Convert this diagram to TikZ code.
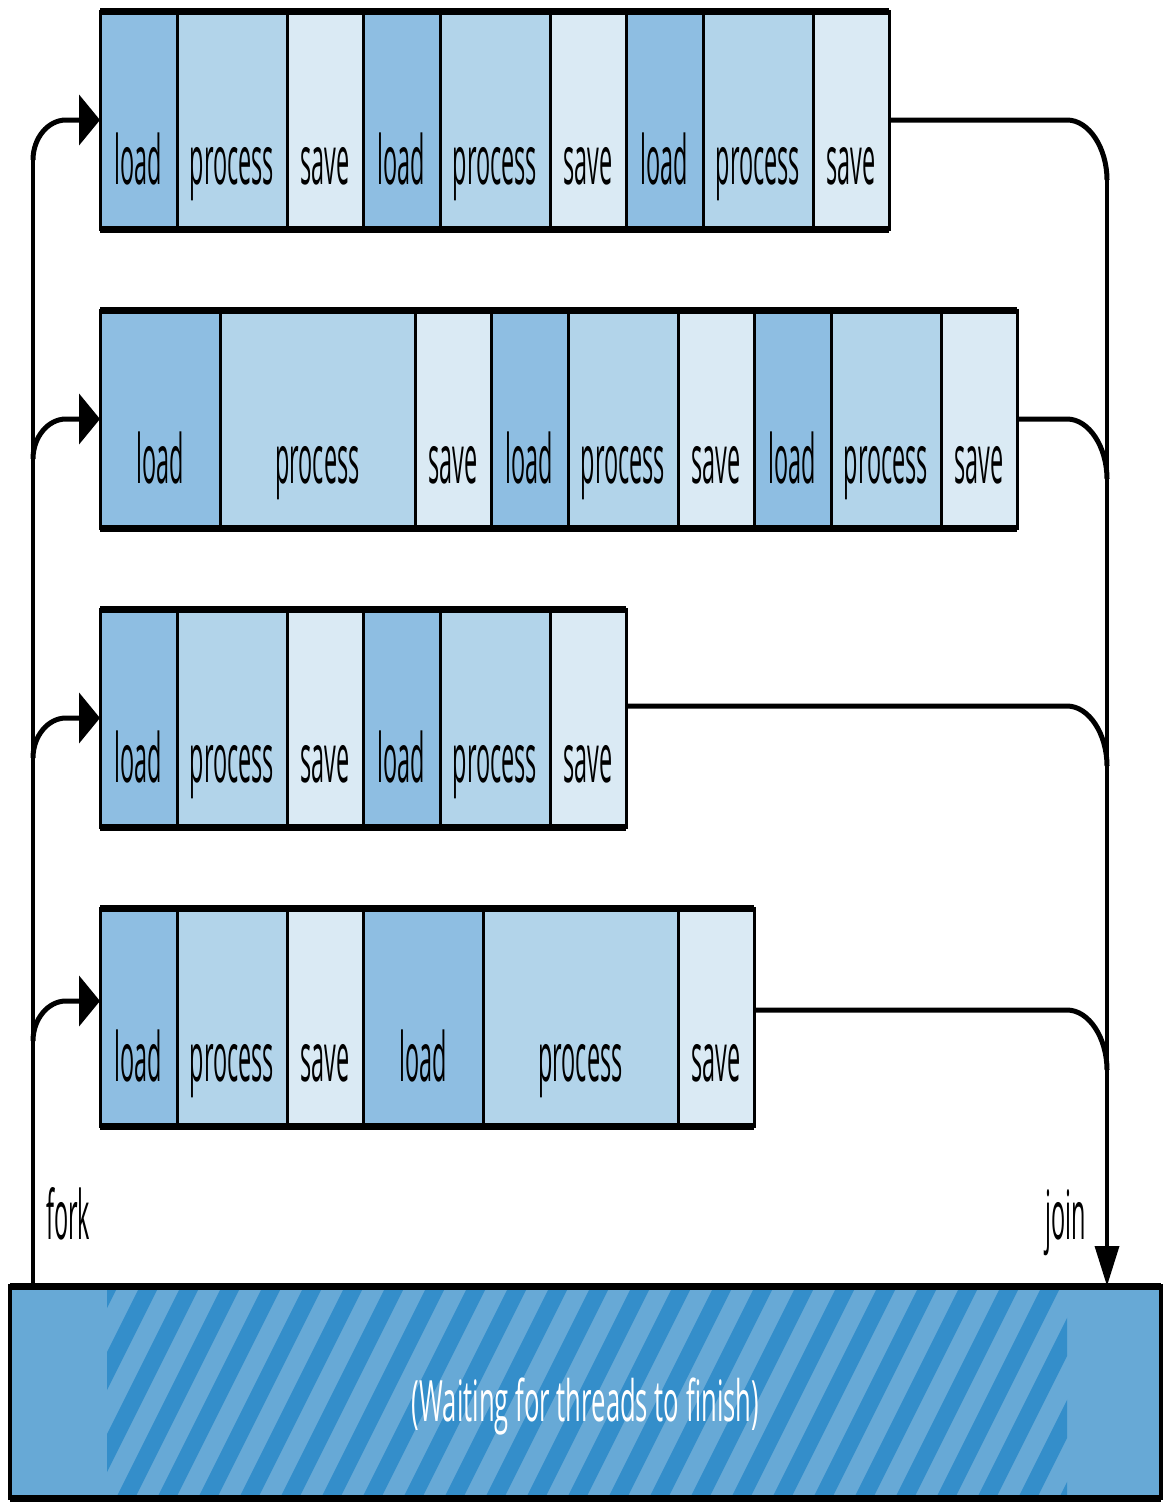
\documentclass[tikz,border=0pt]{standalone}
\usepackage{fontspec}
\setmainfont[FakeStretch=0.345]{Open Sans}
\newfontfamily\barfont[FakeStretch=0.45]{Open Sans}
\usetikzlibrary{
	arrows.meta,
	positioning,
	calc,
	backgrounds
}
\definecolor{loadc}{RGB}{142,190,226}
\definecolor{procc}{RGB}{178,212,234}
\definecolor{savec}{RGB}{218,234,244}
\definecolor{barc}{RGB}{103,169,214}
\definecolor{stripec}{RGB}{52,142,202}

\begin{document}
\begin{tikzpicture}[x=1pt, y=-1pt,
  cell/.style={draw, line width=3pt, outer sep=0pt, inner sep=0pt,
    minimum height=218pt, text height=128pt, text depth=0pt,
    font=\fontsize{68}{70}\selectfont},
  loadcell/.style={cell, fill=loadc, minimum width=77pt},
  proccell/.style={cell, fill=procc, minimum width=110pt},
  savecell/.style={cell, fill=savec, minimum width=76pt},
  rim/.style={line width=7pt},
  bar/.style={draw, line width=4pt, outer sep=0pt, inner sep=0pt,
    minimum width=1151pt, minimum height=212pt, text=white,
    text height=58pt, text depth=0pt,
    font=\barfont\fontsize{57}{60}\selectfont},
  etiqueta/.style={font=\fontsize{68}{70}\selectfont, inner sep=0pt},
  rama/.style={line width=5pt},
  tronco/.style={line width=3.5pt},
  forkflecha/.style={rama, -{Triangle[length=21pt, width=50pt]}},
  joinflecha/.style={tronco, -{Triangle[length=40pt, width=24pt]}}
]
\useasboundingbox (0,0) rectangle (1163,1505);

% hilo 1
\node[loadcell, anchor=north west] (r1c1) at (100,11) {load};
\node[proccell, right=0pt of r1c1] (r1c2) {process};
\node[savecell, right=0pt of r1c2] (r1c3) {save};
\node[loadcell, right=0pt of r1c3] (r1c4) {load};
\node[proccell, right=0pt of r1c4] (r1c5) {process};
\node[savecell, right=0pt of r1c5] (r1c6) {save};
\node[loadcell, right=0pt of r1c6] (r1c7) {load};
\node[proccell, right=0pt of r1c7] (r1c8) {process};
\node[savecell, right=0pt of r1c8] (r1c9) {save};

% hilo 2
\node[loadcell, minimum width=120pt, below=81pt of r1c1.south west, anchor=north west] (r2c1) {load};
\node[proccell, minimum width=195pt, right=0pt of r2c1] (r2c2) {process};
\node[savecell, right=0pt of r2c2] (r2c3) {save};
\node[loadcell, right=0pt of r2c3] (r2c4) {load};
\node[proccell, right=0pt of r2c4] (r2c5) {process};
\node[savecell, right=0pt of r2c5] (r2c6) {save};
\node[loadcell, right=0pt of r2c6] (r2c7) {load};
\node[proccell, right=0pt of r2c7] (r2c8) {process};
\node[savecell, right=0pt of r2c8] (r2c9) {save};

% hilo 3
\node[loadcell, below=81pt of r2c1.south west, anchor=north west] (r3c1) {load};
\node[proccell, right=0pt of r3c1] (r3c2) {process};
\node[savecell, right=0pt of r3c2] (r3c3) {save};
\node[loadcell, right=0pt of r3c3] (r3c4) {load};
\node[proccell, right=0pt of r3c4] (r3c5) {process};
\node[savecell, right=0pt of r3c5] (r3c6) {save};

% hilo 4
\node[loadcell, below=81pt of r3c1.south west, anchor=north west] (r4c1) {load};
\node[proccell, right=0pt of r4c1] (r4c2) {process};
\node[savecell, right=0pt of r4c2] (r4c3) {save};
\node[loadcell, minimum width=120pt, right=0pt of r4c3] (r4c4) {load};
\node[proccell, minimum width=195pt, right=0pt of r4c4] (r4c5) {process};
\node[savecell, right=0pt of r4c5] (r4c6) {save};

% bordes gruesos arriba y abajo
\foreach \f/\u in {1/9, 2/9, 3/6, 4/6} {
  \draw[rim] (r\f c1.north west) -- (r\f c\u.north east);
  \draw[rim] (r\f c1.south west) -- (r\f c\u.south east);
}

% barra de espera
\node[bar, anchor=north west] (wait) at (10,1286) {(Waiting for threads to finish)};
\begin{scope}[on background layer]
  \fill[barc] (wait.north west) rectangle (wait.south east);
  \clip (107,1286) rectangle (1067,1498);
  \foreach \k in {-1,...,26}
    \fill[stripec] (140+41*\k,1286) -- (159+41*\k,1286)
      -- (53+41*\k,1498) -- (34+41*\k,1498) -- cycle;
\end{scope}
\draw[rim] (wait.north west) -- (wait.north east);
\draw[rim] (wait.south west) -- (wait.south east);

\node[etiqueta, anchor=base west] (forklbl) at (46,1239) {fork};
\node[etiqueta, anchor=base east] (joinlbl) at (1086,1239) {join};

% fork y join
\coordinate (fork) at (33,0);
\coordinate (join) at (1107,0);
\coordinate (in1) at (r1c1.west);
\coordinate (in2) at (r2c1.west);
\coordinate (in3) at (r3c1.west);
\coordinate (in4) at ($(r4c1.west)+(0,-16)$);
\coordinate (out1) at (r1c9.east);
\coordinate (out2) at (r2c9.east);
\coordinate (out3) at ($(r3c6.east)+(0,-12)$);
\coordinate (out4) at ($(r4c6.east)+(0,-7)$);

\draw[tronco] (wait.north -| fork) -- ($(in1 -| fork)+(0,40)$);
\foreach \i in {1,...,4}
  \draw[forkflecha] ($(in\i -| fork)+(0,40)$) .. controls +(0,-22) and +(-18,0)
    .. ($(in\i -| fork)+(33,0)$) -- (in\i);

\foreach \i in {1,...,4}
  \draw[rama] (out\i) -- ($(out\i -| join)+(-40,0)$) .. controls +(22,0) and +(0,-32)
    .. ($(out\i -| join)+(0,60)$);
\draw[joinflecha] ($(out1 -| join)+(0,60)$) -- (wait.north -| join);
\end{tikzpicture}
\end{document}
